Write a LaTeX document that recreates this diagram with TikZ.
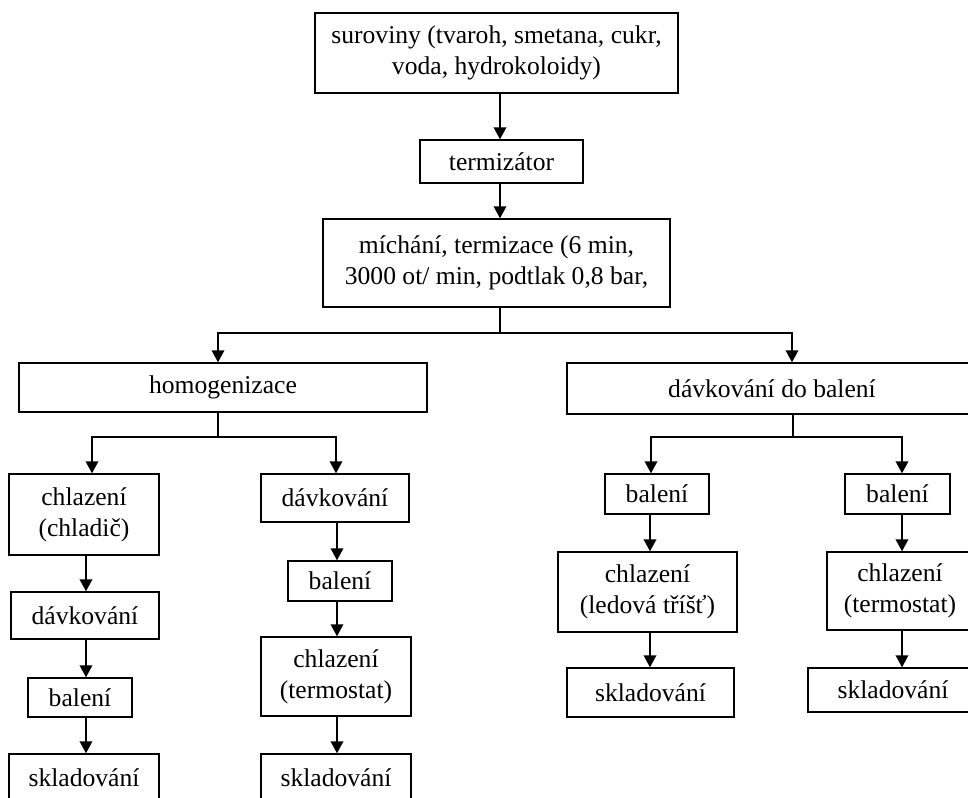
\documentclass[tikz,border=0pt]{standalone}
\usepackage{fontspec}
\setmainfont{Liberation Serif}
\usetikzlibrary{arrows.meta}
\newcommand\mybox[5]{\node[box, minimum width=#3*0.75pt, minimum height=#4*0.75pt] (#1) at (#2) {#5};}
\begin{document}
\begin{tikzpicture}[x=0.75pt, y=-0.75pt,
  box/.style={draw=black, line width=1.1pt, inner sep=0pt, align=center,
    font=\fontsize{19.2}{23.2}\selectfont},
  arr/.style={draw=black, line width=1.1pt, -{Triangle[length=9pt, width=9.5pt]}},
  ln/.style={draw=black, line width=1.1pt}]
\useasboundingbox (0,0) rectangle (968,797);
\clip (0,0) rectangle (968,797);
\mybox{sur}{496.5,53}{363}{80}{suroviny (tvaroh, smetana, cukr,\\voda, hydrokoloidy)}
\mybox{term}{501.5,161.5}{163}{43}{termizátor}
\mybox{mich}{496.5,263}{347}{88}{míchání, termizace (6 min,\\3000 ot/ min, podtlak 0,8 bar,}
\mybox{homo}{223,387.5}{408}{49}{homogenizace}
\mybox{dbal}{772,388.5}{410}{51}{dávkování do balení}
\mybox{chA}{84,514.5}{150}{81}{chlazení\\(chladič)}
\mybox{davA}{85,615.5}{148}{47}{dávkování}
\mybox{balA}{80,697.5}{104}{39}{balení}
\mybox{sklA}{84,778}{150}{48}{skladování}
\mybox{davB}{335,498}{148}{48}{dávkování}
\mybox{balB}{340,581}{104}{40}{balení}
\mybox{chB}{336,676.5}{150}{79}{chlazení\\(termostat)}
\mybox{sklB}{336,778}{150}{48}{skladování}
\mybox{balC}{657,494}{104}{40}{balení}
\mybox{chC}{647.5,592}{179}{80}{chlazení\\(ledová tříšť)}
\mybox{sklC}{650.5,692.5}{167}{49}{skladování}
\mybox{balD}{897.5,494}{105}{40}{balení}
\mybox{chD}{900,591}{146}{78}{chlazení\\(termostat)}
\mybox{sklD}{893,690}{170}{44}{skladování}
% top chain
\draw[arr] (sur.south -| 500,0) -- (term.north -| 500,0);
\draw[arr] (term.south -| 500,0) -- (mich.north -| 500,0);
\coordinate (splitA) at (500,333);
\draw[ln] (mich.south -| splitA) -- (splitA);
\draw[arr] (splitA) -| (homo.north -| 218,0);
\draw[arr] (splitA) -| (dbal.north -| 792,0);
% left branch
\coordinate (splitB) at (218,437);
\draw[ln] (homo.south -| splitB) -- (splitB);
\draw[arr] (splitB) -| (chA.north -| 92,0);
\draw[arr] (splitB) -| (davB.north -| 336,0);
\draw[arr] (chA.south -| 86,0) -- (davA.north -| 86,0);
\draw[arr] (davA.south -| 86,0) -- (balA.north -| 86,0);
\draw[arr] (balA.south -| 86,0) -- (sklA.north -| 86,0);
\draw[arr] (davB.south -| 337,0) -- (balB.north -| 337,0);
\draw[arr] (balB.south -| 337,0) -- (chB.north -| 337,0);
\draw[arr] (chB.south -| 337,0) -- (sklB.north -| 337,0);
% right branch
\coordinate (splitC) at (793,437);
\draw[ln] (dbal.south -| splitC) -- (splitC);
\draw[arr] (splitC) -| (balC.north -| 651,0);
\draw[arr] (splitC) -| (balD.north -| 902,0);
\draw[arr] (balC.south -| 650,0) -- (chC.north -| 650,0);
\draw[arr] (chC.south -| 650,0) -- (sklC.north -| 650,0);
\draw[arr] (balD.south -| 902,0) -- (chD.north -| 902,0);
\draw[arr] (chD.south -| 902,0) -- (sklD.north -| 902,0);
\end{tikzpicture}
\end{document}
